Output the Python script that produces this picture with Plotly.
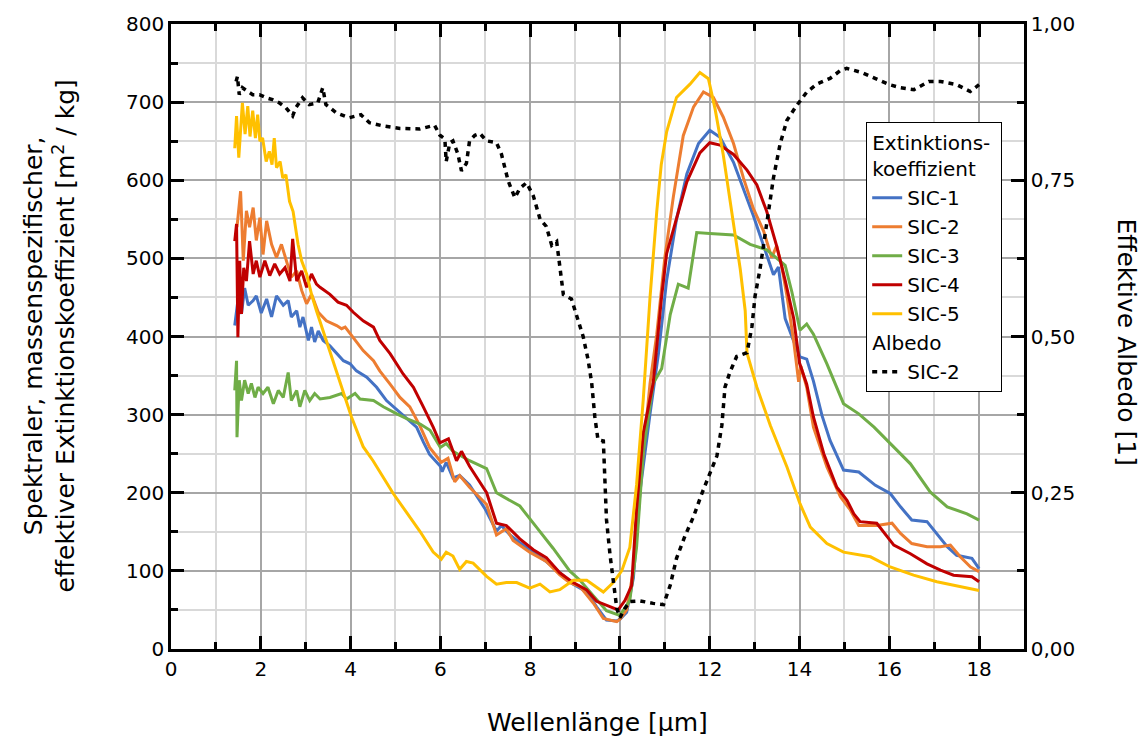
import plotly.graph_objects as go

# ---------------- data ----------------
sic1_x = [1.42,1.49,1.57,1.64,1.72,1.83,1.90,2.01,2.13,2.24,2.35,2.50,2.61,2.68,2.80,2.87,2.94,3.06,3.13,3.20,3.28,3.39,3.54,3.69,3.84,3.99,4.13,4.36,4.58,4.80,5.02,5.25,5.47,5.62,5.76,6.0,6.04,6.13,6.28,6.43,6.65,6.99,7.25,7.36,7.55,7.77,8.07,8.36,8.66,8.96,9.26,9.48,9.70,9.93,10.0,10.15,10.3,10.45,10.67,10.86,11.04,11.26,11.49,11.75,12.0,12.23,12.53,12.75,12.97,13.2,13.42,13.53,13.68,13.87,14.01,14.16,14.31,14.5,14.68,14.98,15.32,15.69,16.02,16.25,16.5,16.84,17.06,17.29,17.5,17.84,18.0]
sic1_y = [414,446,429,462,440,446,452,430,448,425,452,440,446,425,433,412,425,395,412,393,407,395,388,378,369,365,356,348,335,318,307,295,284,265,249,234,227,239,219,222,210,180,151,158,146,136,124,112,97.5,83,73,54,37,36,38,47,91,203,301,379,472,550,608,647,664,655,623,589,555,516,479,489,423,394,374,371,343,299,267,229,226.5,209.5,199,182,165,163,148,131,120,116,103]

sic2_x = [1.47,1.55,1.61,1.68,1.75,1.83,1.90,1.98,2.05,2.13,2.24,2.35,2.46,2.57,2.68,2.80,2.91,3.02,3.13,3.28,3.46,3.69,3.80,3.88,4.06,4.28,4.51,4.65,4.88,5.10,5.32,5.55,5.76,6.02,6.17,6.32,6.43,6.65,7.03,7.25,7.47,7.62,7.99,8.36,8.66,8.88,9.11,9.41,9.63,9.93,10.0,10.15,10.3,10.48,10.67,10.82,11.0,11.19,11.41,11.64,11.86,12.08,12.3,12.53,12.75,12.97,13.2,13.38,13.49,13.6,13.72,13.87,13.98,14.03,14.16,14.31,14.61,14.91,15.13,15.32,15.72,16.06,16.25,16.5,16.84,17.14,17.36,17.58,17.81,18.0]
sic2_y = [540,586,497,561,540,565,523,552,505,548,518,501,518,497,476,484,459,442,454,431,420,414,410,412,399,382,369,356,339,322,310,285,258,239,244,214,222,207,185,146,154,139,124,112,95,85,80,58.5,39,35,38,50,101,228,340,403,501,579,657,694,713,706,681,647,603,564,535,501,516,491,452,394,342,362,335,284,233,195,178,158,158,161,148,135,131,131,133,118,105,99]

sic3_x = [1.42,1.46,1.47,1.52,1.57,1.64,1.72,1.79,1.87,1.94,2.05,2.16,2.28,2.39,2.50,2.61,2.68,2.80,2.87,2.98,3.09,3.20,3.32,3.54,3.80,3.91,4.10,4.21,4.51,4.73,5.03,5.25,5.55,5.77,6.0,6.13,6.28,6.65,7.03,7.25,7.40,7.77,8.14,8.51,8.88,9.11,9.41,9.70,10.0,10.22,10.37,10.52,10.74,10.93,11.12,11.3,11.52,11.71,12.0,12.53,12.9,13.27,13.68,13.83,14.01,14.16,14.31,14.61,14.98,15.32,15.66,16.02,16.47,16.91,17.29,17.73,18.0]
sic3_y = [331,369,271,344,318,344,327,340,322,335,327,335,314,331,322,354,318,331,310,331,318,327,320,322,327,320,327,320,318,310,301,295,288,280,258,263,253,241,231,200,195,183,156,129,100,88,68,49,43,62,130,252,340,359,428,467,462,533,532,530,518,511,491,457,408,416,403,365,314,301,284,263,237,201,182,173,165]

sic4_x = [1.42,1.46,1.49,1.53,1.57,1.62,1.68,1.75,1.83,1.90,1.98,2.09,2.2,2.31,2.42,2.54,2.65,2.71,2.80,2.91,3.02,3.13,3.24,3.32,3.54,3.72,3.91,4.06,4.28,4.51,4.65,4.88,5.17,5.40,5.62,5.84,5.99,6.18,6.36,6.47,6.65,7.03,7.25,7.47,7.77,8.07,8.36,8.66,8.96,9.26,9.48,9.70,9.96,10.11,10.26,10.37,10.52,10.74,10.93,11.04,11.26,11.49,11.78,12.0,12.23,12.53,12.83,13.05,13.27,13.49,13.68,13.87,14.0,14.16,14.31,14.54,14.83,15.06,15.21,15.35,15.72,16.1,16.47,16.84,17.14,17.43,17.84,18.0]
sic4_y = [522,544,399,497,429,488,471,522,480,497,476,497,478,493,480,488,471,525,471,484,463,480,467,463,454,444,440,431,420,412,395,378,352,335,310,284,264,269,241,253,234,200,161,158,141,127,117,97.5,85,75.5,61,56,50,62,81,179,277,340,452,506,550,598,635,648,645,633,613,594,560,516,472,423,366,339,297,250,207,190,173,163,161,133,122,109,101,94.5,92.5,86]

sic5_x = [1.42,1.46,1.51,1.56,1.59,1.65,1.71,1.76,1.82,1.88,1.93,1.98,2.04,2.12,2.19,2.25,2.30,2.35,2.43,2.49,2.56,2.64,2.72,2.83,2.91,3.02,3.13,3.24,3.39,3.54,3.69,3.84,4.02,4.28,4.5,4.95,5.32,5.54,5.84,6.02,6.13,6.28,6.43,6.58,6.73,7.03,7.25,7.47,7.70,7.99,8.22,8.44,8.66,8.96,9.26,9.63,9.85,10.04,10.22,10.37,10.52,10.67,10.82,10.92,11.04,11.26,11.56,11.78,11.97,12.12,12.3,12.49,12.68,12.79,12.83,13.05,13.35,13.72,14.01,14.24,14.61,14.98,15.58,16.02,16.54,17.06,17.58,18.0]
sic5_y = [641,682,629,682,699,659,695,656,689,654,684,650,654,624,637,620,654,616,624,603,607,573,560,518,497,480,454,433,407,378,352,327,297,259,241,199,169,151,124,115,124,119,102,112,110,93,83,85,85,78,83,73,76,88,88,73,85,100,130,210,320,450,560,620,662,706,723,738,730,691,633,560,486,433,379,335,286,233,186,156,135,124,118,105,94.5,86,80,75]

albedo_x = [1.45,1.48,1.52,1.59,1.71,1.82,1.97,2.12,2.26,2.41,2.56,2.71,2.78,2.93,3.08,3.27,3.38,3.45,3.68,3.97,4.23,4.42,4.72,5.1,5.54,5.69,5.87,5.99,6.1,6.13,6.21,6.28,6.39,6.47,6.58,6.65,6.77,6.88,7.03,7.25,7.36,7.51,7.66,7.77,7.92,8.07,8.22,8.36,8.48,8.59,8.66,8.74,8.92,9.03,9.18,9.29,9.37,9.44,9.51,9.63,9.67,9.70,9.78,9.85,9.93,10.0,10.11,10.22,10.45,10.74,10.97,11.12,11.26,11.45,11.64,11.82,12.0,12.16,12.27,12.34,12.45,12.6,12.83,12.94,13.01,13.12,13.27,13.42,13.57,13.72,13.94,14.16,14.39,14.68,14.9,15.05,15.4,15.7,16.0,16.25,16.55,16.88,17.14,17.5,17.8,18.0]
albedo_y = [0.908,0.916,0.887,0.898,0.892,0.887,0.887,0.882,0.879,0.874,0.866,0.853,0.866,0.882,0.871,0.874,0.898,0.871,0.858,0.850,0.855,0.842,0.837,0.833,0.832,0.835,0.838,0.822,0.816,0.780,0.810,0.813,0.792,0.765,0.777,0.813,0.822,0.825,0.813,0.810,0.792,0.749,0.722,0.737,0.746,0.725,0.688,0.676,0.646,0.652,0.609,0.567,0.560,0.536,0.500,0.463,0.426,0.372,0.335,0.333,0.25,0.207,0.15,0.110,0.065,0.05,0.065,0.076,0.077,0.073,0.071,0.102,0.145,0.181,0.212,0.248,0.279,0.309,0.358,0.419,0.443,0.468,0.474,0.516,0.565,0.608,0.681,0.754,0.809,0.846,0.870,0.891,0.904,0.913,0.925,0.929,0.922,0.912,0.903,0.898,0.895,0.908,0.908,0.903,0.892,0.903]

series_names = ["SIC-1", "SIC-2", "SIC-3", "SIC-4", "SIC-5"]
series_colors = ["#4472C4", "#ED7D31", "#70AD47", "#C00000", "#FFC000"]

x_ticks = [0, 2, 4, 6, 8, 10, 12, 14, 16, 18]
y2_ticks = [0, 0.25, 0.5, 0.75, 1.0]

FONT = "DejaVu Sans"
TITLE_SIZE = 25

fig = go.Figure()
series = [(sic1_x, sic1_y), (sic2_x, sic2_y), (sic3_x, sic3_y), (sic4_x, sic4_y), (sic5_x, sic5_y)]
for i, ((xs, ys), name, col) in enumerate(zip(series, series_names, series_colors)):
    kw = {}
    if i == 0:
        kw["legendgrouptitle"] = dict(text="Extinktions-<br>koeffizient",
                                      font=dict(size=20, family=FONT, color="black"))
    fig.add_trace(go.Scatter(
        x=xs, y=ys, mode="lines", name=name,
        line=dict(color=col, width=3),
        legendgroup="ext", **kw,
    ))

fig.add_trace(go.Scatter(
    x=albedo_x, y=albedo_y, mode="lines", name="SIC-2", yaxis="y2",
    line=dict(color="black", width=3.5, dash="5px,5px"),
    legendgroup="alb",
    legendgrouptitle=dict(text="Albedo", font=dict(size=20, family=FONT, color="black")),
))

axis_common = dict(
    showline=True, linecolor="black", linewidth=2.5,
    ticks="inside", ticklen=13, tickwidth=2.5, tickcolor="black",
    zeroline=False,
    tickfont=dict(size=20, family=FONT, color="black"),
)

fig.update_layout(
    width=1148, height=744,
    margin=dict(l=171, r=124, t=22, b=95),
    paper_bgcolor="white", plot_bgcolor="white",
    font=dict(family=FONT, color="black", size=20),
    separators=",.",
    showlegend=True,
    xaxis=dict(
        range=[0, 19], tickvals=x_ticks, mirror="ticks",
        showgrid=True, gridcolor="#a6a6a6", gridwidth=1.5,
        minor=dict(dtick=1, tick0=0, ticks="inside", ticklen=7, tickwidth=2.5, tickcolor="black",
                   showgrid=True, gridcolor="#d9d9d9", gridwidth=1.5),
        **axis_common,
    ),
    yaxis=dict(
        range=[0, 800], dtick=100, tick0=0,
        showgrid=True, gridcolor="#a6a6a6", gridwidth=1.5,
        minor=dict(dtick=50, tick0=0, ticks="inside", ticklen=7, tickwidth=2.5, tickcolor="black",
                   showgrid=True, gridcolor="#d9d9d9", gridwidth=1.5),
        **axis_common,
    ),
    yaxis2=dict(
        range=[0, 1], tickvals=y2_ticks, tickformat=".2f",
        overlaying="y", side="right", showgrid=False,
        minor=dict(dtick=0.125, tick0=0, ticks="inside", ticklen=7, tickwidth=2.5, tickcolor="black", showgrid=False),
        **axis_common,
    ),
    legend=dict(
        x=0.815, y=0.843, xanchor="left", yanchor="top",
        bgcolor="white", bordercolor="black", borderwidth=1,
        font=dict(size=20, family=FONT, color="black"),
        tracegroupgap=0, traceorder="grouped",
    ),
    annotations=[
        dict(text="Wellenlänge [µm]", xref="paper", yref="paper", x=0.5, y=-0.118,
             xanchor="center", yanchor="middle", showarrow=False, font=dict(size=TITLE_SIZE, family=FONT)),
        dict(text="Spektraler, massenspezifischer,<br>effektiver Extinktionskoeffizient [m<sup>2</sup> / kg]",
             xref="paper", yref="paper", x=-0.143, y=0.5, textangle=-90,
             xanchor="center", yanchor="middle", showarrow=False, font=dict(size=TITLE_SIZE, family=FONT)),
        dict(text="Effektive Albedo [1]", xref="paper", yref="paper", x=1.12, y=0.49, textangle=90,
             xanchor="center", yanchor="middle", showarrow=False, font=dict(size=TITLE_SIZE, family=FONT)),
    ],
)

fig.write_html("out.html")
